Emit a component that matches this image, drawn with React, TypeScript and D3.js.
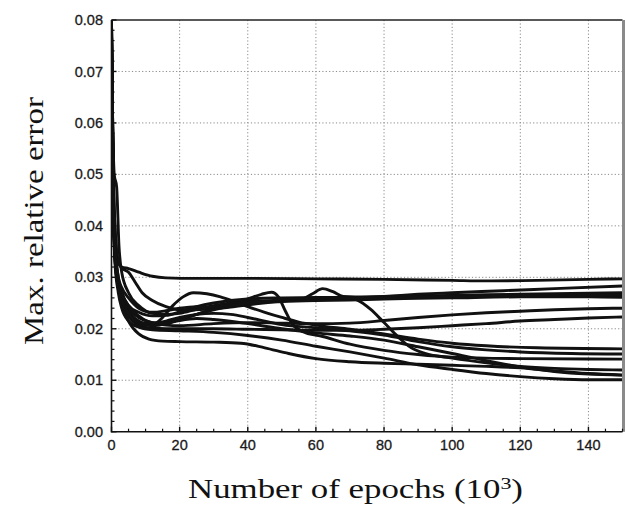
import React from "react";
import * as d3 from "d3";

type P = [number, number];

const xTicks = [0, 20, 40, 60, 80, 100, 120, 140];
const yTicks = [0, 0.01, 0.02, 0.03, 0.04, 0.05, 0.06, 0.07, 0.08];
const xLabel = "Number of epochs (10";
const yLabel = "Max. relative error";

const s1: P[] = [[0,0.078],[0.5,0.052],[1,0.04],[2,0.033],[3,0.032],[5,0.0317],[8,0.031],[12,0.0302],[16,0.0299],[25,0.0298],[40,0.0298],[60,0.0297],[80,0.0296],[100,0.0294],[110,0.0293],[125,0.0294],[140,0.0296],[150,0.0297]];
const s2: P[] = [[0,0.07],[0.8,0.05],[1.5,0.0476],[2.2,0.036],[3,0.031],[5,0.027],[8,0.0245],[12,0.023],[16,0.0228],[20,0.023],[25,0.0238],[30,0.0245],[35,0.025],[40,0.0253],[50,0.0255],[56,0.0258],[59,0.0268],[62,0.0278],[65,0.0272],[68,0.0263],[75,0.0262],[90,0.0264],[110,0.0266],[130,0.0268],[150,0.027]];
const s3: P[] = [[0,0.08],[0.5,0.05],[1,0.04],[2,0.033],[3,0.0318],[5,0.031],[7,0.029],[9,0.027],[12,0.0255],[16,0.0243],[20,0.0237],[28,0.0238],[35,0.0242],[42,0.0248],[50,0.0254],[60,0.0258],[70,0.026],[80,0.0263],[90,0.0267],[100,0.027],[115,0.0274],[130,0.0278],[150,0.0283]];
const s4: P[] = [[0,0.075],[0.5,0.045],[1,0.034],[2,0.028],[3,0.026],[5,0.0235],[8,0.0215],[12,0.0207],[16,0.021],[20,0.0218],[25,0.0228],[30,0.0238],[35,0.0248],[40,0.0258],[44,0.0267],[47,0.0271],[49,0.0262],[51,0.0235],[53,0.021],[56,0.0195],[62,0.0185],[70,0.017],[80,0.0158],[90,0.015],[100,0.0145],[120,0.0142],[150,0.0141]];
const s5: P[] = [[0,0.078],[0.5,0.047],[1,0.035],[2,0.028],[3,0.0255],[5,0.023],[8,0.0212],[12,0.0208],[15,0.0222],[18,0.0245],[21,0.0262],[24,0.027],[28,0.0268],[32,0.0262],[36,0.0253],[40,0.0243],[45,0.0232],[50,0.0222],[55,0.0213],[60,0.0207],[70,0.0199],[80,0.019],[90,0.018],[100,0.0172],[110,0.0167],[125,0.0163],[150,0.0161]];
const s6: P[] = [[0,0.08],[0.5,0.046],[1,0.035],[2,0.029],[3,0.027],[5,0.0245],[8,0.0232],[12,0.0225],[16,0.0226],[20,0.0233],[25,0.0243],[30,0.025],[35,0.0255],[40,0.0258],[50,0.026],[60,0.0261],[68,0.0261],[72,0.0256],[76,0.0238],[80,0.0212],[84,0.0185],[88,0.0163],[92,0.0152],[100,0.0143],[110,0.0134],[120,0.0127],[130,0.0123],[140,0.0121],[150,0.012]];
const s7: P[] = [[0,0.078],[0.5,0.047],[1,0.036],[2,0.029],[3,0.027],[5,0.024],[8,0.0222],[12,0.0212],[16,0.0207],[20,0.0206],[30,0.021],[40,0.0212],[50,0.0211],[60,0.021],[70,0.0211],[80,0.0216],[90,0.0222],[100,0.0227],[110,0.0231],[120,0.0234],[130,0.0237],[140,0.0239],[150,0.024]];
const s8: P[] = [[0,0.075],[0.5,0.045],[1,0.034],[2,0.028],[3,0.0255],[5,0.0225],[8,0.0207],[12,0.0201],[20,0.02],[30,0.02],[40,0.0199],[50,0.0198],[60,0.0197],[70,0.0197],[80,0.0199],[90,0.0202],[100,0.0206],[110,0.021],[120,0.0215],[130,0.0218],[140,0.0221],[150,0.0223]];
const s9: P[] = [[0,0.07],[0.5,0.045],[1,0.034],[2,0.028],[3,0.025],[5,0.0215],[8,0.019],[11,0.018],[15,0.0176],[20,0.0175],[30,0.0174],[38,0.0172],[45,0.0163],[52,0.0152],[60,0.0142],[70,0.0136],[80,0.0133],[90,0.0131],[100,0.0129],[110,0.0127],[120,0.0124],[130,0.0118],[140,0.0113],[150,0.011]];
const s10: P[] = [[0,0.075],[0.5,0.044],[1,0.033],[2,0.027],[3,0.024],[5,0.0215],[8,0.0203],[12,0.0198],[20,0.0196],[30,0.0193],[40,0.0187],[50,0.0178],[60,0.0166],[70,0.0155],[80,0.0143],[90,0.013],[100,0.0121],[110,0.0113],[120,0.0107],[130,0.0103],[140,0.0101],[150,0.0101]];
const s11: P[] = [[0,0.08],[0.5,0.048],[1,0.036],[2,0.029],[3,0.026],[5,0.023],[8,0.021],[12,0.0206],[16,0.021],[20,0.0216],[25,0.022],[30,0.0218],[40,0.021],[50,0.02],[60,0.0192],[70,0.0186],[80,0.0178],[90,0.0165],[100,0.0152],[110,0.0138],[120,0.0126],[130,0.0117],[140,0.0112],[150,0.011]];
const s12: P[] = [[0,0.072],[0.5,0.046],[1,0.035],[2,0.028],[3,0.0255],[5,0.023],[8,0.0213],[12,0.021],[16,0.0215],[20,0.0222],[25,0.0228],[30,0.023],[35,0.0228],[40,0.0222],[45,0.0215],[50,0.0208],[60,0.0202],[70,0.0196],[80,0.0188],[90,0.0175],[100,0.0165],[110,0.0159],[120,0.0155],[135,0.0152],[150,0.0151]];
const s13: P[] = [[0,0.08],[0.5,0.05],[1,0.037],[2,0.03],[3,0.027],[5,0.0245],[8,0.0225],[12,0.0212],[16,0.0212],[20,0.0218],[25,0.0228],[30,0.0237],[35,0.0244],[40,0.0249],[50,0.0253],[60,0.0255],[70,0.0256],[80,0.0258],[90,0.0259],[100,0.026],[120,0.0262],[140,0.0262],[150,0.0261]];
const s14: P[] = [[0,0.077],[0.5,0.047],[1,0.036],[2,0.03],[3,0.028],[5,0.026],[8,0.024],[12,0.0232],[16,0.0235],[20,0.024],[25,0.0243],[30,0.0242],[35,0.0245],[40,0.025],[50,0.0256],[60,0.0259],[80,0.026],[100,0.0262],[120,0.0264],[140,0.0265],[150,0.0266]];

const seriesList: P[][] = [s1, s2, s3, s4, s5, s6, s7, s8, s9, s10, s11, s12, s13, s14];

export default function App() {
  const W = 626, H = 516;
  const x0 = 111.5, x1 = 622.5, yTop = 20, yBot = 431.7;
  const x = d3.scaleLinear().domain([0, 150]).range([x0, x1]);
  const y = d3.scaleLinear().domain([0, 0.08]).range([yBot, yTop]);
  const line = d3.line<P>().x(d => x(d[0])).y(d => y(d[1])).curve(d3.curveMonotoneX);

  const xMinor = d3.range(0, 151, 5).filter(v => v % 20 !== 0);
  const yMinor = d3.range(0, 41).map(i => i * 0.002).filter((v, i) => i % 5 !== 0);

  const sans = "'Liberation Sans', Arial, Helvetica, sans-serif";
  const serif = "'Liberation Serif', 'Times New Roman', Times, serif";

  return (
    <svg width={W} height={H} style={{ position: "absolute", left: 0, top: 0, background: "#fff" }}>
      <rect x={0} y={0} width={W} height={H} fill="#fff" />
      <defs>
        <clipPath id="plotclip">
          <rect x={x0} y={yTop - 2} width={x1 - x0} height={yBot - yTop + 2} />
        </clipPath>
      </defs>
      {xTicks.filter(v => v > 0).map(v => (
        <line key={"gx" + v} x1={x(v)} x2={x(v)} y1={yTop} y2={yBot} stroke="#8a8a8a" strokeWidth={1} strokeDasharray="1.2,2.2" />
      ))}
      {yTicks.filter(v => v > 0 && v < 0.08).map(v => (
        <line key={"gy" + v} x1={x0} x2={x1} y1={y(v)} y2={y(v)} stroke="#8a8a8a" strokeWidth={1} strokeDasharray="1.2,2.2" />
      ))}
      <g clipPath="url(#plotclip)">
        {seriesList.map((s, i) => (
          <path key={"s" + i} d={line(s) || ""} fill="none" stroke="#111" strokeWidth={2.9} strokeLinejoin="round" />
        ))}
      </g>
      <line x1={x0} x2={x1} y1={yTop} y2={yTop} stroke="#222" strokeWidth={1.6} />
      <line x1={x1 + 1} x2={x1 + 1} y1={yTop} y2={yBot} stroke="#8a8a8a" strokeWidth={3} />
      <line x1={x0} x2={x0} y1={yTop} y2={yBot + 0.8} stroke="#111" strokeWidth={1.6} />
      <line x1={x0} x2={x1} y1={yBot} y2={yBot} stroke="#111" strokeWidth={1.6} />
      {xTicks.map(v => (
        <line key={"tx" + v} x1={x(v)} x2={x(v)} y1={yBot} y2={yBot - 5} stroke="#111" strokeWidth={1.4} />
      ))}
      {xMinor.map(v => (
        <line key={"mx" + v} x1={x(v)} x2={x(v)} y1={yBot} y2={yBot - 3} stroke="#111" strokeWidth={1.2} />
      ))}
      {yTicks.map(v => (
        <line key={"ty" + v} x1={x0} x2={x0 + 5} y1={y(v)} y2={y(v)} stroke="#111" strokeWidth={1.4} />
      ))}
      {yMinor.map(v => (
        <line key={"my" + v} x1={x0} x2={x0 + 3} y1={y(v)} y2={y(v)} stroke="#111" strokeWidth={1.2} />
      ))}
      {xTicks.map(v => (
        <text key={"lx" + v} x={x(v)} y={450} textAnchor="middle" fontFamily={sans} fontSize={14.5} fill="#1a1a1a" stroke="#1a1a1a" strokeWidth={0.3}>{v}</text>
      ))}
      {yTicks.map(v => (
        <text key={"ly" + v} x={103} y={y(v)} dy="0.35em" textAnchor="end" fontFamily={sans} fontSize={14.5} fill="#1a1a1a" stroke="#1a1a1a" strokeWidth={0.3}>{v.toFixed(2)}</text>
      ))}
      <text x={188} y={498} fontFamily={serif} fontSize={27} fill="#111" textLength={335} lengthAdjust="spacingAndGlyphs">
        {xLabel}<tspan dy={-9} fontSize={17}>3</tspan><tspan dy={9}>)</tspan>
      </text>
      <text transform="translate(43,221) rotate(-90)" textAnchor="middle" fontFamily={serif} fontSize={28} fill="#111" textLength={248} lengthAdjust="spacingAndGlyphs">
        {yLabel}
      </text>
    </svg>
  );
}
